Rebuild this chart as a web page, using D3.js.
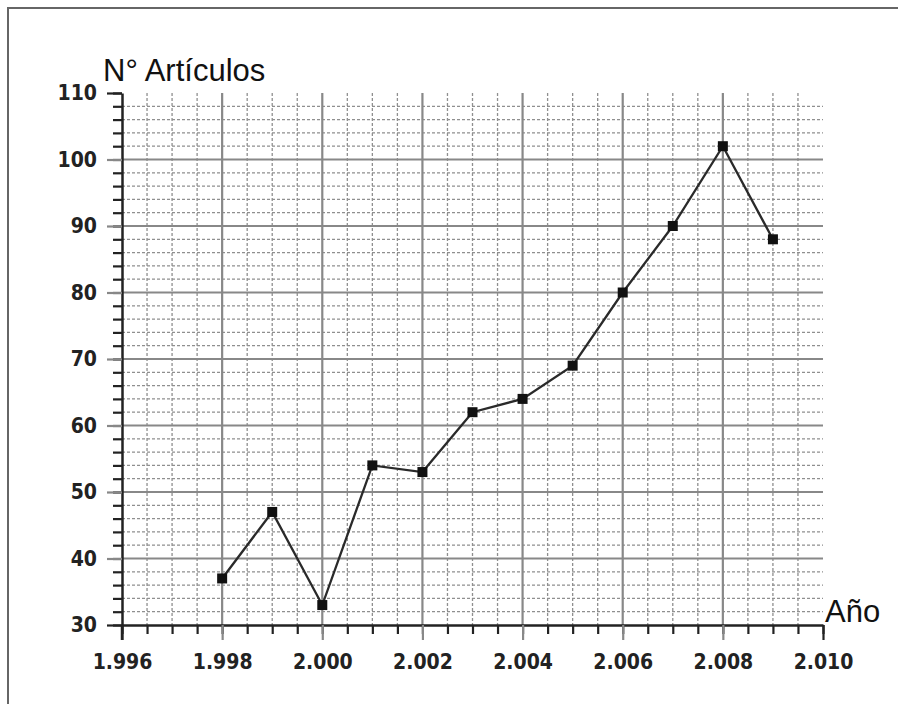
<!DOCTYPE html>
<html>
<head>
<meta charset="utf-8">
<script src="https://cdn.jsdelivr.net/npm/d3@7"></script>
<style>
  body { margin: 0; background: #fff; }
  svg { display: block; }
  .tick text { font-family: "DejaVu Sans Condensed", "DejaVu Sans", sans-serif; font-stretch: condensed; font-weight: bold; font-size: 21px; fill: #222; }
</style>
</head>
<body>
<svg id="chart" width="898" height="704"></svg>
<script>
// data
const years = [1998, 1999, 2000, 2001, 2002, 2003, 2004, 2005, 2006, 2007, 2008, 2009];
const articles = [37, 47, 33, 54, 53, 62, 64, 69, 80, 90, 102, 88];
const yearTicks = [1996, 1998, 2000, 2002, 2004, 2006, 2008, 2010];
const countTicks = [30, 40, 50, 60, 70, 80, 90, 100, 110];

const svg = d3.select("#chart");

// frame (top + left edge only, like the scanned figure)
svg.append("path")
  .attr("d", "M8,704V8H898")
  .attr("fill", "none")
  .attr("stroke", "#666")
  .attr("stroke-width", 2);

const x = d3.scaleLinear().domain([1996, 2010]).range([122, 823]);
const y = d3.scaleLinear().domain([30, 110]).range([625, 93]);

const es = d3.formatLocale({ decimal: ",", thousands: ".", grouping: [3], currency: ["", "€"] });

// minor grid, dashed
const grid = svg.append("g");
grid.selectAll(".vminor")
  .data(x.ticks(28).filter(d => d % 2 !== 0))
  .enter().append("line")
  .attr("x1", d => x(d)).attr("x2", d => x(d))
  .attr("y1", y(110)).attr("y2", y(30))
  .attr("stroke", "#8f8f8f").attr("stroke-width", 1.3)
  .attr("stroke-dasharray", "3,2");
grid.selectAll(".hminor")
  .data(y.ticks(40).filter(d => d % 10 !== 0))
  .enter().append("line")
  .attr("x1", x(1996)).attr("x2", x(2010))
  .attr("y1", d => y(d)).attr("y2", d => y(d))
  .attr("stroke", "#8f8f8f").attr("stroke-width", 1.3)
  .attr("stroke-dasharray", "3,2");

// major grid, solid
grid.selectAll(".vmajor")
  .data(yearTicks.slice(1, -1))
  .enter().append("line")
  .attr("x1", d => x(d)).attr("x2", d => x(d))
  .attr("y1", y(110)).attr("y2", y(30))
  .attr("stroke", "#888").attr("stroke-width", 2.2);
grid.selectAll(".hmajor")
  .data(countTicks.slice(1, -1))
  .enter().append("line")
  .attr("x1", x(1996)).attr("x2", x(2010))
  .attr("y1", d => y(d)).attr("y2", d => y(d))
  .attr("stroke", "#888").attr("stroke-width", 2.2);

// minor axis ticks
svg.append("g")
  .attr("transform", "translate(0," + y(30) + ")")
  .call(d3.axisBottom(x).ticks(28).tickSize(9).tickSizeOuter(0).tickFormat(""))
  .call(g => g.selectAll("line").attr("stroke", "#222").attr("stroke-width", 2.2))
  .call(g => g.select(".domain").remove());
svg.append("g")
  .attr("transform", "translate(" + x(1996) + ",0)")
  .call(d3.axisLeft(y).ticks(40).tickSize(9).tickSizeOuter(0).tickFormat(""))
  .call(g => g.selectAll("line").attr("stroke", "#222").attr("stroke-width", 2.2))
  .call(g => g.select(".domain").remove());

// major axes with labels
const xAxis = svg.append("g")
  .attr("transform", "translate(0," + y(30) + ")")
  .call(d3.axisBottom(x).tickValues(yearTicks).tickSize(15).tickSizeOuter(0).tickPadding(14).tickFormat(es.format(",d")));
xAxis.select(".domain").attr("stroke", "#222").attr("stroke-width", 2.5);
xAxis.selectAll("line")
  .attr("stroke", d => (d === 1996 || d === 2010) ? "#222" : "#888")
  .attr("stroke-width", 2.2);

const yAxis = svg.append("g")
  .attr("transform", "translate(" + x(1996) + ",0)")
  .call(d3.axisLeft(y).tickValues(countTicks).tickSize(15).tickSizeOuter(0).tickPadding(10).tickFormat(d3.format("d")));
yAxis.select(".domain").attr("stroke", "#222").attr("stroke-width", 2.5);
yAxis.selectAll("line")
  .attr("stroke", d => (d === 30 || d === 110) ? "#222" : "#888")
  .attr("stroke-width", 2.2);

// y axis line continues down past the x axis
svg.append("line")
  .attr("x1", x(1996)).attr("x2", x(1996))
  .attr("y1", y(30)).attr("y2", y(30) + 15)
  .attr("stroke", "#222").attr("stroke-width", 2.5);

// series
const line = d3.line().x((d, i) => x(years[i])).y(d => y(d));
svg.append("path")
  .datum(articles)
  .attr("d", line)
  .attr("fill", "none")
  .attr("stroke", "#2a2a2a")
  .attr("stroke-width", 2.3);

svg.selectAll(".pt")
  .data(articles)
  .enter().append("rect")
  .attr("x", (d, i) => x(years[i]) - 5)
  .attr("y", d => y(d) - 5)
  .attr("width", 10).attr("height", 10)
  .attr("fill", "#111");

// axis titles
svg.append("text")
  .attr("x", 103).attr("y", 81)
  .attr("font-family", "Liberation Sans, Arial, sans-serif")
  .attr("font-size", 31)
  .attr("fill", "#111")
  .text("N° Artículos");
svg.append("text")
  .attr("x", 825).attr("y", 622)
  .attr("font-family", "Liberation Sans, Arial, sans-serif")
  .attr("font-size", 31)
  .attr("fill", "#111")
  .text("Año");
</script>
</body>
</html>
